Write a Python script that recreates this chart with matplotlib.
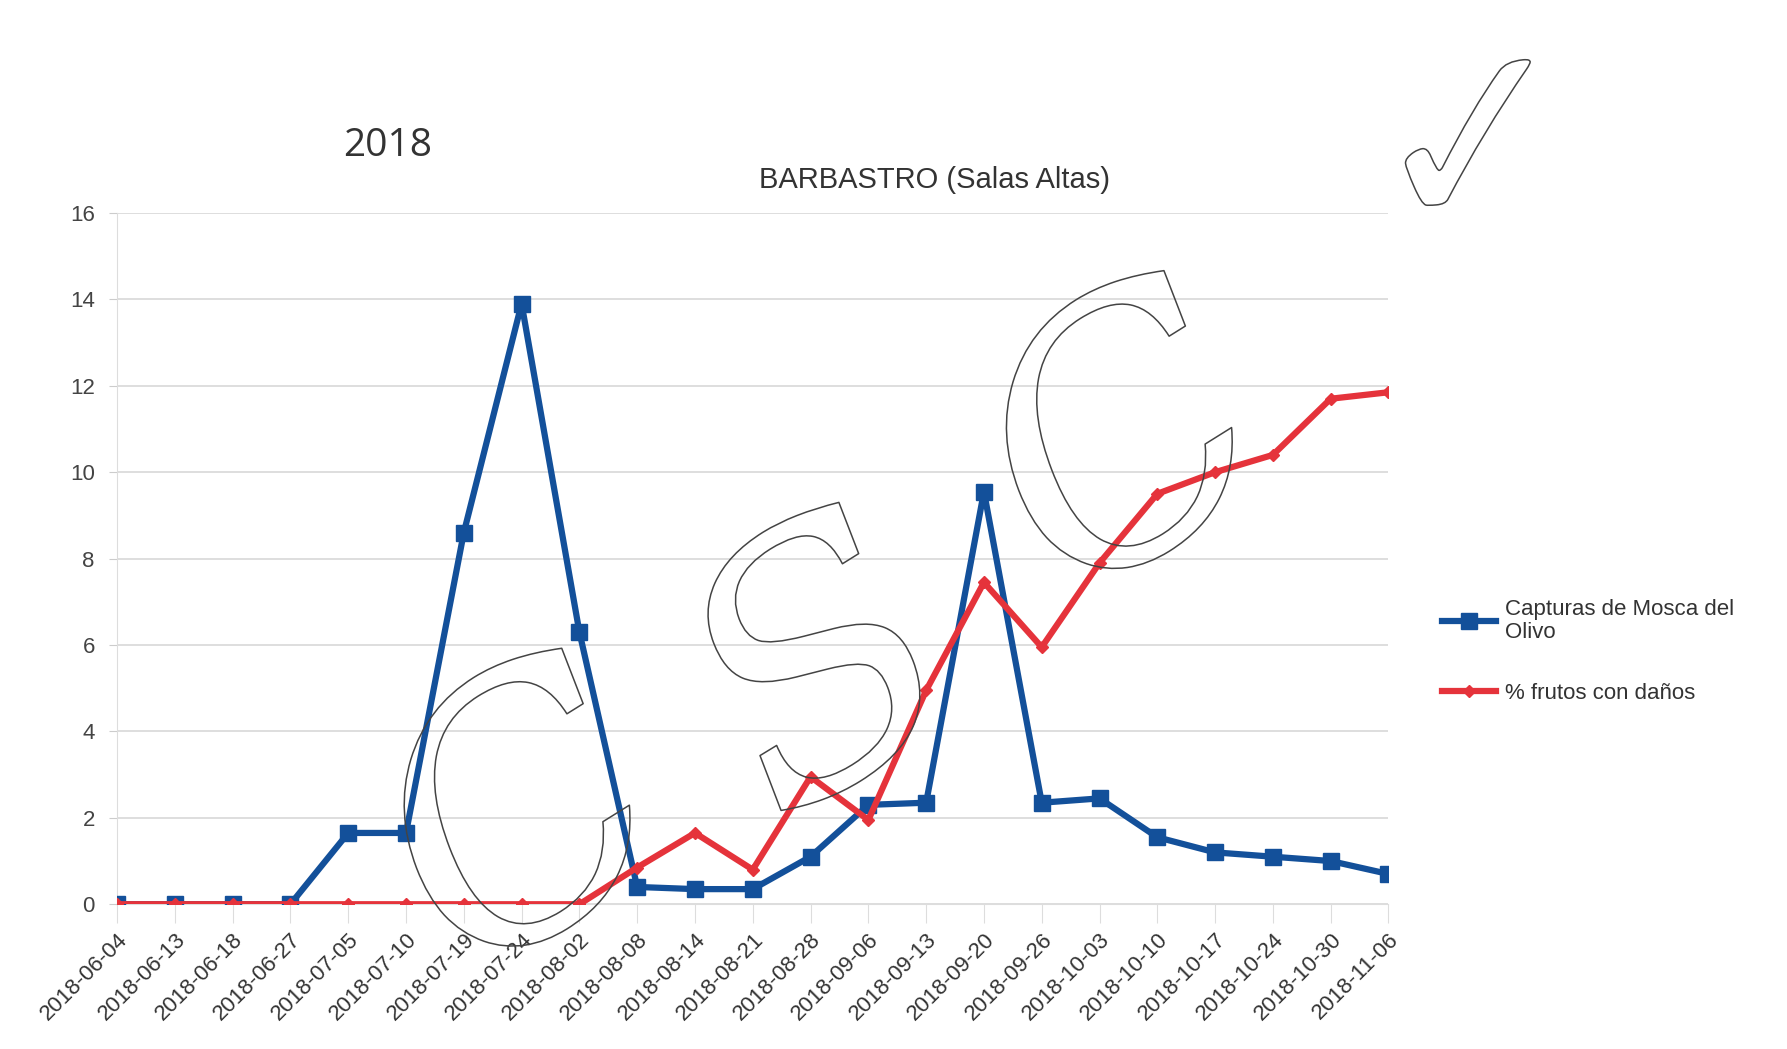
import matplotlib
matplotlib.use("Agg")
import matplotlib.pyplot as plt
import matplotlib.patheffects as pe

plt.rcParams["font.family"] = ["Liberation Sans", "DejaVu Sans"]

dates = ["2018-06-04", "2018-06-13", "2018-06-18", "2018-06-27", "2018-07-05",
         "2018-07-10", "2018-07-19", "2018-07-24", "2018-08-02", "2018-08-08",
         "2018-08-14", "2018-08-21", "2018-08-28", "2018-09-06", "2018-09-13",
         "2018-09-20", "2018-09-26", "2018-10-03", "2018-10-10", "2018-10-17",
         "2018-10-24", "2018-10-30", "2018-11-06"]
capturas = [0, 0, 0, 0, 1.65, 1.65, 8.6, 13.9, 6.3, 0.4, 0.35, 0.35, 1.1, 2.3,
            2.35, 9.55, 2.35, 2.45, 1.55, 1.2, 1.1, 1.0, 0.7]
danos = [0, 0, 0, 0, 0, 0, 0, 0, 0, 0.85, 1.65, 0.8, 2.95, 1.95, 4.95, 7.45,
         5.95, 7.9, 9.5, 10.0, 10.4, 11.7, 11.85]
yticks = [0, 2, 4, 6, 8, 10, 12, 14, 16]

fig = plt.figure(figsize=(17.87, 10.49), dpi=100)
ax = fig.add_axes([0.0655, 0.138, 0.7115, 0.659])
x = list(range(len(dates)))

ax.plot(x, capturas, color="#13509a", lw=4.5, marker="s", ms=12,
        label="Capturas de Mosca del\nOlivo", zorder=3)
ax.plot(x, danos, color="#e5333b", lw=4.5, marker="D", ms=6,
        label="% frutos con daños", zorder=4)

ax.set_xlim(0, len(dates) - 1)
ax.set_ylim(0, 16)
ax.set_yticks(yticks)
ax.set_yticklabels([str(v) for v in yticks], fontsize=16, color="#444444")
ax.set_xticks(x)
ax.set_xticklabels(dates, rotation=45, ha="right", rotation_mode="anchor",
                   fontsize=16, color="#333333")
ax.tick_params(axis="x", length=14, color="#dddddd", pad=4)
ax.tick_params(axis="y", length=6, color="#cccccc", pad=10)
ax.grid(axis="y", color="#d8d8d8", lw=1.2)
ax.set_axisbelow(True)
for s in ["top", "right"]:
    ax.spines[s].set_visible(False)
ax.spines["left"].set_color("#dddddd")
ax.spines["bottom"].set_color("#dddddd")

fig.text(0.523, 0.828, "BARBASTRO (Salas Altas)", fontsize=21, color="#333333",
         ha="center", va="center")
fig.text(0.217, 0.861, "2018", fontsize=28, color="#333333", ha="center", va="center",
         family="Open Sans")

leg = fig.legend(loc="center left", bbox_to_anchor=(0.796, 0.379), frameon=False,
                 fontsize=16, handlelength=2.4, labelspacing=1.8, handletextpad=0.4,
                 bbox_transform=fig.transFigure)
for t in leg.get_texts():
    t.set_color("#333333")
    t.set_linespacing(1.15)

# watermark "CSC" outlined letters
for ch, (fx, fy) in zip("CSC", [(0.296, 0.205), (0.464, 0.350), (0.633, 0.565)]):
    wm = fig.text(fx, fy, ch, fontsize=250, style="italic", family="DejaVu Serif",
                  rotation=32, ha="center", va="center", color="none", zorder=10)
    wm.set_path_effects([pe.Stroke(linewidth=1.1, foreground="#444444")])
ck = fig.text(0.825, 0.852, "\u2713", fontsize=185, rotation=5, ha="center", va="center",
              family="DejaVu Sans", color="none", zorder=10)
ck.set_path_effects([pe.Stroke(linewidth=1.1, foreground="#444444")])

fig.savefig("out.png", dpi=100, facecolor="white")
